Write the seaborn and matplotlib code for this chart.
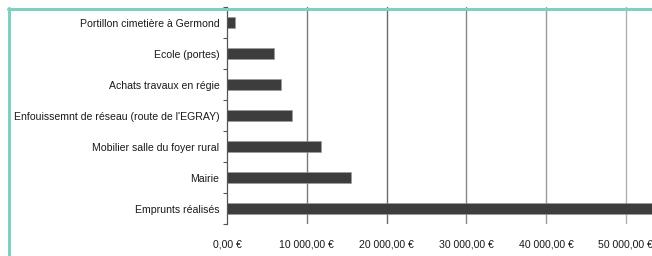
import matplotlib
matplotlib.use("Agg")
import matplotlib.pyplot as plt
import seaborn as sns
import pandas as pd
from matplotlib.lines import Line2D

categories = [
    "Portillon cimetière à Germond",
    "Ecole (portes)",
    "Achats travaux en régie",
    "Enfouissemnt de réseau (route de l'EGRAY)",
    "Mobilier salle du foyer rural",
    "Mairie",
    "Emprunts réalisés",
]
values = [1000, 5900, 6780, 8100, 11800, 15500, 58000]
xticks = [0, 10000, 20000, 30000, 40000, 50000]
xtick_labels = ["0,00 €", "10 000,00 €", "20 000,00 €", "30 000,00 €", "40 000,00 €", "50 000,00 €"]

df = pd.DataFrame({"cat": categories, "val": values})

sns.set_theme(style="white")
plt.rcParams["font.family"] = ["Liberation Sans", "DejaVu Sans"]
fsize = 7.55

fig = plt.figure(figsize=(6.52, 2.56), dpi=100)
ax = fig.add_axes([227 / 652, 1 - 224 / 256, 1 - 227 / 652, (224 - 7) / 256])

sns.barplot(data=df, y="cat", x="val", orient="h", color="#3d3d3d",
            saturation=1, width=0.38, ax=ax, edgecolor="#9a9a9a", linewidth=0.4)

ax.set_xlim(0, 53290)
ax.set_ylim(len(categories) - 0.5, -0.5)

grid_colors = ["#7a7a7a", "#6a6a6a", "#858585", "#9a9a9a", "#b0b0b0"]
for xv, c in zip(xticks[1:], grid_colors):
    ax.axvline(xv, color=c, lw=1.0, zorder=0)

ax.set_xticks(xticks)
ax.set_xticklabels(xtick_labels, fontsize=fsize, color="#1a1a1a")
ax.tick_params(axis="x", length=0, pad=11)

ax.set_yticks(range(len(categories)))
ax.set_yticklabels(categories, fontsize=fsize, color="#1a1a1a")
ax.tick_params(axis="y", length=0, pad=5.5)
ax.set_yticks([i + 0.5 for i in range(-1, len(categories))], minor=True)
ax.tick_params(axis="y", which="minor", length=3, width=0.8, color="#555555", left=True)

ax.set_xlabel("")
ax.set_ylabel("")
for s in ["top", "right", "bottom"]:
    ax.spines[s].set_visible(False)
ax.spines["left"].set_color("#555555")
ax.spines["left"].set_linewidth(0.9)

teal = "#80cfc4"
fig.add_artist(Line2D([7.5 / 652, 1.0], [1 - 8.5 / 256, 1 - 8.5 / 256], color=teal, lw=2.2,
                      transform=fig.transFigure))
fig.add_artist(Line2D([8.5 / 652, 8.5 / 652], [1 - 7.5 / 256, 0.0], color=teal, lw=2.2,
                      transform=fig.transFigure))

fig.savefig("out.png", dpi=100)
